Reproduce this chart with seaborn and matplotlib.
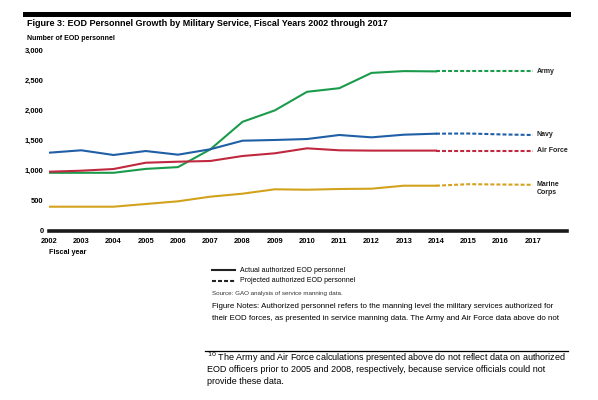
import matplotlib
matplotlib.use("Agg")
import matplotlib.pyplot as plt
import seaborn as sns
import pandas as pd
from matplotlib.lines import Line2D

years = list(range(2002, 2018))
army = [965, 965, 965, 1030, 1060, 1355, 1815, 2005, 2315, 2375, 2630, 2660, 2655, 2655, 2655, 2655]
navy = [1300, 1340, 1262, 1328, 1267, 1357, 1500, 1512, 1528, 1595, 1556, 1600, 1617, 1620, 1605, 1595]
air_force = [983, 1000, 1028, 1133, 1150, 1162, 1245, 1290, 1373, 1340, 1335, 1335, 1335, 1335, 1335, 1335]
marine_corps = [400, 400, 400, 445, 490, 567, 617, 690, 683, 695, 700, 750, 750, 775, 770, 765]
last_actual = 2014

services = ["Army", "Navy", "Air Force", "Marine Corps"]
series = [army, navy, air_force, marine_corps]
colors = {"Army": "#1a9b4b", "Navy": "#1f5fa6", "Air Force": "#c0283f", "Marine Corps": "#d3a21c"}
end_labels = {"Army": "Army", "Navy": "Navy", "Air Force": "Air Force", "Marine Corps": "Marine\nCorps"}
dash_pat = (1.9, 1.0)
lw = 1.5

# long form table: actual part up to 2014, projected part from 2014 on
rows = []
for name, vals in zip(services, series):
    for yr, v in zip(years, vals):
        if yr <= last_actual:
            rows.append((name, "Actual", yr, v))
        if yr >= last_actual:
            rows.append((name, "Projected", yr, v))
df = pd.DataFrame(rows, columns=["service", "kind", "year", "personnel"])

plt.rcParams["font.family"] = ["Liberation Sans", "DejaVu Sans"]
fig = plt.figure(figsize=(5.98, 4.0), dpi=100)
ax = fig.add_axes([49 / 598, 1 - 230.7 / 400, (567 - 49) / 598, 180 / 400])

for name in services:
    for kind in ["Actual", "Projected"]:
        part = df[(df.service == name) & (df.kind == kind)]
        sns.lineplot(data=part, x="year", y="personnel", ax=ax, color=colors[name],
                     linewidth=lw, legend=False, errorbar=None, zorder=3)
        if kind == "Projected":
            ax.lines[-1].set_dashes(dash_pat)

ax.set_xlim(2002, 2018.06)
ax.set_ylim(0, 3000)
ax.set_xticks(years)
ax.set_xticklabels([str(y) for y in years], fontsize=5.4, fontweight="bold")
ax.set_yticks(range(0, 3001, 500))
ax.set_yticklabels(["0", "500", "1,000", "1,500", "2,000", "2,500", "3,000"],
                   fontsize=5.4, fontweight="bold")
ax.tick_params(length=0)
ax.tick_params(axis="x", pad=5)
ax.tick_params(axis="y", pad=4)
for s in ["top", "right", "left"]:
    ax.spines[s].set_visible(False)
ax.spines["bottom"].set_linewidth(2.6)
ax.spines["bottom"].set_color("#1a1a1a")
ax.set_xlabel("")
ax.set_ylabel("")
ax.grid(False)

for name, vals in zip(services, series):
    y = vals[-1]
    if name == "Marine Corps":
        y = vals[-1] - 60
    ax.text(2017.12, y, end_labels[name], fontsize=5.0, fontweight="bold",
            va="center", ha="left", color="#222222")

# header bar and titles
fig.add_artist(Line2D([25 / 598, 568 / 598], [1 - 13.5 / 400] * 2, color="black", linewidth=3.6))
fig.text(27 / 598, 1 - 24 / 400, "Figure 3: EOD Personnel Growth by Military Service, Fiscal Years 2002 through 2017",
         fontsize=6.5, fontweight="bold", va="center")
fig.text(27 / 598, 1 - 39 / 400, "Number of EOD personnel", fontsize=5.0, fontweight="bold", va="center")
fig.text(49 / 598, 1 - 252.5 / 400, "Fiscal year", fontsize=5.2, fontweight="bold", va="center")

# legend for line styles
fig.add_artist(Line2D([212 / 598, 235 / 598], [1 - 270 / 400] * 2, color="#222222", linewidth=lw))
fig.add_artist(Line2D([212 / 598, 235 / 598], [1 - 281 / 400] * 2, color="#222222", linewidth=lw,
                      dashes=dash_pat))
fig.text(240 / 598, 1 - 270 / 400, "Actual authorized EOD personnel", fontsize=5.0, va="center")
fig.text(240 / 598, 1 - 281 / 400, "Projected authorized EOD personnel", fontsize=5.0, va="center")
fig.text(212 / 598, 1 - 293 / 400, "Source: GAO analysis of service manning data.", fontsize=4.5,
         va="center", color="#333333")
fig.text(212 / 598, 1 - 307 / 400,
         "Figure Notes: Authorized personnel refers to the manning level the military services authorized for",
         fontsize=5.7, va="center")
fig.text(212 / 598, 1 - 318.5 / 400,
         "their EOD forces, as presented in service manning data. The Army and Air Force data above do not",
         fontsize=5.7, va="center")

# footnote
fig.add_artist(Line2D([205 / 598, 568 / 598], [1 - 351 / 400] * 2, color="black", linewidth=0.9))
fig.text(207 / 598, 1 - 358 / 400, "$^{10}$ The Army and Air Force calculations presented above do not reflect data on authorized",
         fontsize=6.5, va="center")
fig.text(207 / 598, 1 - 370 / 400, "EOD officers prior to 2005 and 2008, respectively, because service officials could not",
         fontsize=6.5, va="center")
fig.text(207 / 598, 1 - 382 / 400, "provide these data.", fontsize=6.5, va="center")

fig.savefig("out.png", dpi=100)
